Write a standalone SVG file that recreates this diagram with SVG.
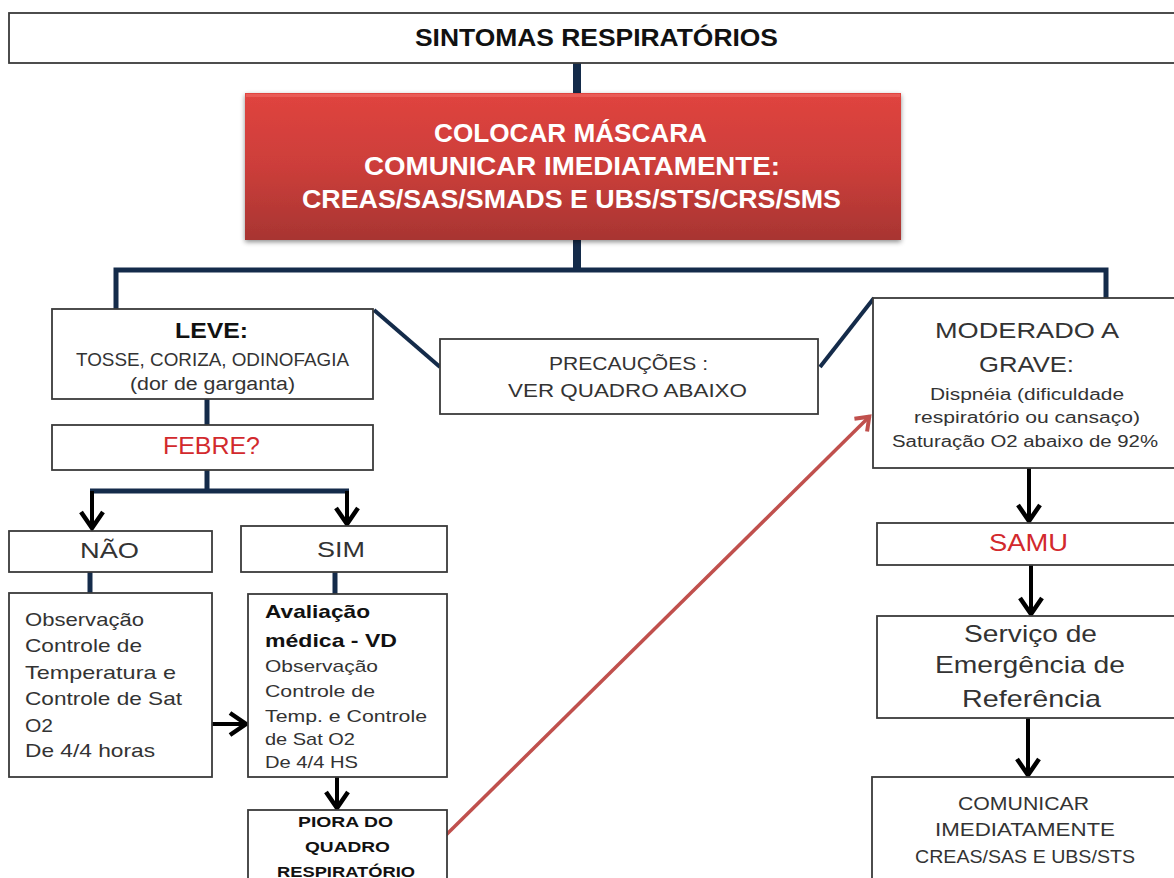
<svg xmlns="http://www.w3.org/2000/svg" width="1174" height="878" viewBox="0 0 1174 878">
<defs>
<linearGradient id="redg" x1="0" y1="0" x2="0" y2="1">
<stop offset="0" stop-color="#E0443F"/>
<stop offset="0.5" stop-color="#CC3E3A"/>
<stop offset="1" stop-color="#A83532"/>
</linearGradient>
<filter id="sh" x="-5%" y="-10%" width="110%" height="125%">
<feDropShadow dx="0" dy="2" stdDeviation="2.5" flood-color="#000" flood-opacity="0.45"/>
</filter>
<marker id="ah" markerUnits="userSpaceOnUse" markerWidth="40" markerHeight="40" viewBox="-20 -20 40 40" refX="0" refY="0" orient="auto">
<path d="M-17,-11 L-1,0 L-17,11" fill="none" stroke="#000" stroke-width="4.5"/>
</marker>
<marker id="ahr" markerUnits="userSpaceOnUse" markerWidth="32" markerHeight="32" viewBox="-16 -16 32 32" refX="0" refY="0" orient="auto">
<path d="M-13,-9 L-1,0 L-13,9" fill="none" stroke="#C0504D" stroke-width="4"/>
</marker>
</defs>
<style>
.box{fill:#fff;stroke:#3a3a3a;stroke-width:1.8}
.t{font-family:"Liberation Sans",Arial,sans-serif;fill:#333}
.b{font-weight:bold}
.k{fill:#111}
.w{fill:#fff;font-weight:bold}
.r{fill:#D2292D}
.nv{stroke:#142B4A;fill:none;stroke-linecap:butt}
.ar{stroke:#000;stroke-width:4;fill:none}
</style>
<rect width="1174" height="878" fill="#fff"/>

<g id="connectors">
<line class="nv" x1="577" y1="63" x2="577" y2="94" stroke-width="8"/>
<line class="nv" x1="577" y1="240" x2="577" y2="271" stroke-width="8"/>
<polyline class="nv" points="116,309 116,270 1106,270 1106,298" stroke-width="5"/>
<line class="nv" x1="374" y1="310" x2="440" y2="367" stroke-width="4"/>
<line class="nv" x1="820" y1="367" x2="874" y2="298" stroke-width="4"/>
<line class="nv" x1="207" y1="399" x2="207" y2="425" stroke-width="5"/>
<line class="nv" x1="207" y1="470" x2="207" y2="491" stroke-width="5"/>
<line class="nv" x1="90" y1="491" x2="349" y2="491" stroke-width="5"/>
<line class="ar" x1="92" y1="491" x2="92" y2="529" marker-end="url(#ah)"/>
<line class="ar" x1="347" y1="491" x2="347" y2="525" marker-end="url(#ah)"/>
<line class="nv" x1="90" y1="572" x2="90" y2="593" stroke-width="5"/>
<line class="nv" x1="335" y1="572" x2="335" y2="594" stroke-width="5"/>
<line class="ar" x1="212" y1="724" x2="247" y2="724" marker-end="url(#ah)"/>
<line class="ar" x1="337" y1="777" x2="337" y2="809" marker-end="url(#ah)"/>
<line x1="446" y1="835" x2="870" y2="416" stroke="#C0504D" stroke-width="3.5" marker-end="url(#ahr)"/>
<line class="ar" x1="1029" y1="468" x2="1029" y2="522" marker-end="url(#ah)"/>
<line class="ar" x1="1031" y1="565" x2="1031" y2="615" marker-end="url(#ah)"/>
<line class="ar" x1="1028" y1="718" x2="1028" y2="776" marker-end="url(#ah)"/>
</g>

<g id="sintomas">
<rect class="box" x="9" y="13" width="1180" height="50"/>
<text class="t b k" x="415" y="46" font-size="23" textLength="363" lengthAdjust="spacingAndGlyphs">SINTOMAS RESPIRATÓRIOS</text>
</g>

<g id="mascara">
<rect x="245" y="93" width="656" height="147" fill="url(#redg)" filter="url(#sh)"/>
<rect x="246" y="94" width="654" height="3" fill="#F06A66" opacity="0.6"/>
<text class="t w" x="434" y="142" font-size="25" textLength="273" lengthAdjust="spacingAndGlyphs">COLOCAR MÁSCARA</text>
<text class="t w" x="364" y="175" font-size="25" textLength="416" lengthAdjust="spacingAndGlyphs">COMUNICAR IMEDIATAMENTE:</text>
<text class="t w" x="302" y="208" font-size="25" textLength="539" lengthAdjust="spacingAndGlyphs">CREAS/SAS/SMADS E UBS/STS/CRS/SMS</text>
</g>

<g id="leve">
<rect class="box" x="52" y="309" width="321" height="90"/>
<text class="t b k" x="175" y="338" font-size="22" textLength="73" lengthAdjust="spacingAndGlyphs">LEVE:</text>
<text class="t" x="76" y="366" font-size="18" textLength="273" lengthAdjust="spacingAndGlyphs">TOSSE, CORIZA, ODINOFAGIA</text>
<text class="t" x="130" y="390" font-size="18" textLength="165" lengthAdjust="spacingAndGlyphs">(dor de garganta)</text>
</g>

<g id="precaucoes">
<rect class="box" x="440" y="339" width="378" height="75"/>
<text class="t" x="549" y="370" font-size="18" textLength="159" lengthAdjust="spacingAndGlyphs">PRECAUÇÕES :</text>
<text class="t" x="508" y="397" font-size="18" textLength="239" lengthAdjust="spacingAndGlyphs">VER QUADRO ABAIXO</text>
</g>

<g id="febre">
<rect class="box" x="52" y="425" width="321" height="45"/>
<text class="t r" x="163" y="454" font-size="23" textLength="97" lengthAdjust="spacingAndGlyphs">FEBRE?</text>
</g>

<g id="nao">
<rect class="box" x="9" y="531" width="203" height="41"/>
<text class="t" x="80" y="558" font-size="22" textLength="59" lengthAdjust="spacingAndGlyphs">NÃO</text>
</g>

<g id="sim">
<rect class="box" x="241" y="526" width="206" height="46"/>
<text class="t" x="317" y="557" font-size="22" textLength="48" lengthAdjust="spacingAndGlyphs">SIM</text>
</g>

<g id="observacao">
<rect class="box" x="9" y="593" width="203" height="184"/>
<text class="t" x="25" y="626" font-size="19" textLength="119" lengthAdjust="spacingAndGlyphs">Observação</text>
<text class="t" x="25" y="652" font-size="19" textLength="117" lengthAdjust="spacingAndGlyphs">Controle de</text>
<text class="t" x="25" y="679" font-size="19" textLength="151" lengthAdjust="spacingAndGlyphs">Temperatura e</text>
<text class="t" x="25" y="705" font-size="19" textLength="157" lengthAdjust="spacingAndGlyphs">Controle de Sat</text>
<text class="t" x="25" y="732" font-size="19" textLength="28" lengthAdjust="spacingAndGlyphs">O2</text>
<text class="t" x="25" y="757" font-size="19" textLength="130" lengthAdjust="spacingAndGlyphs">De 4/4 horas</text>
</g>

<g id="avaliacao">
<rect class="box" x="248" y="594" width="199" height="183"/>
<text class="t b k" x="265" y="618" font-size="19" textLength="105" lengthAdjust="spacingAndGlyphs">Avaliação</text>
<text class="t b k" x="265" y="647" font-size="19" textLength="132" lengthAdjust="spacingAndGlyphs">médica - VD</text>
<text class="t" x="265" y="672" font-size="17" textLength="113" lengthAdjust="spacingAndGlyphs">Observação</text>
<text class="t" x="265" y="697" font-size="17" textLength="110" lengthAdjust="spacingAndGlyphs">Controle de</text>
<text class="t" x="265" y="722" font-size="17" textLength="162" lengthAdjust="spacingAndGlyphs">Temp. e  Controle</text>
<text class="t" x="265" y="745" font-size="17" textLength="90" lengthAdjust="spacingAndGlyphs">de Sat O2</text>
<text class="t" x="265" y="768" font-size="17" textLength="93" lengthAdjust="spacingAndGlyphs">De 4/4 HS</text>
</g>

<g id="piora">
<rect class="box" x="248" y="810" width="199" height="80"/>
<text class="t b k" x="298" y="827" font-size="15" textLength="95" lengthAdjust="spacingAndGlyphs">PIORA DO</text>
<text class="t b k" x="305" y="852" font-size="15" textLength="85" lengthAdjust="spacingAndGlyphs">QUADRO</text>
<text class="t b k" x="277" y="877" font-size="15" textLength="138" lengthAdjust="spacingAndGlyphs">RESPIRATÓRIO</text>
</g>

<g id="moderado">
<rect class="box" x="873" y="298" width="320" height="170"/>
<text class="t" x="935" y="338" font-size="22" textLength="184" lengthAdjust="spacingAndGlyphs">MODERADO A</text>
<text class="t" x="979" y="372" font-size="22" textLength="95" lengthAdjust="spacingAndGlyphs">GRAVE:</text>
<text class="t" x="930" y="400" font-size="16" textLength="194" lengthAdjust="spacingAndGlyphs">Dispnéia (dificuldade</text>
<text class="t" x="914" y="423" font-size="16" textLength="226" lengthAdjust="spacingAndGlyphs">respiratório ou cansaço)</text>
<text class="t" x="892" y="447" font-size="16" textLength="266" lengthAdjust="spacingAndGlyphs">Saturação O2 abaixo de 92%</text>
</g>

<g id="samu">
<rect class="box" x="877" y="523" width="320" height="42"/>
<text class="t r" x="989" y="551" font-size="23" textLength="79" lengthAdjust="spacingAndGlyphs">SAMU</text>
</g>

<g id="servico">
<rect class="box" x="877" y="616" width="320" height="102"/>
<text class="t" x="964" y="642" font-size="24" textLength="133" lengthAdjust="spacingAndGlyphs">Serviço de</text>
<text class="t" x="935" y="673" font-size="24" textLength="190" lengthAdjust="spacingAndGlyphs">Emergência de</text>
<text class="t" x="962" y="707" font-size="24" textLength="139" lengthAdjust="spacingAndGlyphs">Referência</text>
</g>

<g id="comunicar">
<rect class="box" x="872" y="777" width="320" height="120"/>
<text class="t" x="958" y="810" font-size="18" textLength="131" lengthAdjust="spacingAndGlyphs">COMUNICAR</text>
<text class="t" x="935" y="836" font-size="18" textLength="180" lengthAdjust="spacingAndGlyphs">IMEDIATAMENTE</text>
<text class="t" x="915" y="863" font-size="18" textLength="220" lengthAdjust="spacingAndGlyphs">CREAS/SAS E UBS/STS</text>
</g>
</svg>
